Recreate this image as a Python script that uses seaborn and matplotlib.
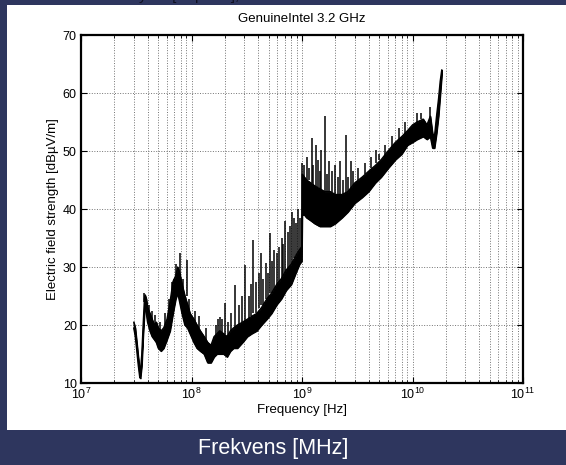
import numpy as np
import pandas as pd
import matplotlib
matplotlib.use("Agg")
import matplotlib.pyplot as plt
from matplotlib.patches import Rectangle
from matplotlib.ticker import LogLocator, NullFormatter
import seaborn as sns

freq_mhz = [30, 31, 32, 33, 34, 34.5, 35.5, 36.5, 37.5, 38, 39, 40, 42, 44, 46, 48,
            50, 53, 56, 60, 64, 68, 72, 75, 78, 82, 87, 92, 97, 105, 112, 120,
            130, 140, 150, 160, 170, 180, 195, 210, 225, 240, 260, 290, 320, 350,
            390, 430, 480, 530, 590, 650, 720, 800, 880, 950, 995, 1005, 1050, 1100,
            1200, 1300, 1450, 1600, 1800, 2000, 2300, 2600, 3000, 3500, 4000, 4600,
            5200, 6000, 7000, 8000, 9000, 10000, 11000, 12500, 13500, 14500, 15200,
            15800, 16500, 17200, 17800, 18400]
level_lo = [19.5, 18, 15.5, 13, 11, 10.8, 13, 18, 22, 23.5, 22, 20.5, 19, 18, 17.5, 17,
            16, 15.5, 16, 17.5, 19, 22, 24.5, 25.5, 24, 22, 20, 19.5, 18.5, 17, 16, 15.5,
            15, 13.5, 13.5, 14.5, 15, 15, 15, 14.5, 15.5, 16, 16, 17, 18, 18.5,
            19, 20, 21, 22, 23.5, 24.5, 26, 27, 29, 30.5, 31, 39, 39, 38.5,
            38, 37.5, 37, 37, 37, 37.5, 38.5, 39.5, 41, 42, 43, 44.5,
            45.5, 47, 48.5, 49.5, 51, 51.5, 52, 52.5, 52, 52.5, 50.5,
            50.5, 53, 56, 59.5, 63]
level_hi = [20.5, 19.5, 17, 14.5, 12.5, 12, 15, 20, 24.5, 25.2, 24.5, 23, 22, 21, 20, 20.5,
            19.5, 19, 19.5, 21, 24, 27.5, 28.5, 30, 29, 27, 25, 23.5, 22, 21, 20, 19,
            18, 17, 16.5, 18, 18.5, 19, 18.5, 18, 19, 19.5, 20, 20.5, 21, 21.5,
            22, 23, 24.5, 25.5, 27, 28, 29.5, 30.5, 32, 33, 33.5, 46, 45.5, 45,
            44.5, 44, 43.5, 43, 43, 42.5, 42.5, 43, 44.5, 45.5, 46.5, 47.5,
            48.5, 50, 51.5, 52.5, 53.5, 54.5, 55, 55.5, 54.5, 56, 53,
            52.5, 56, 59, 62, 64]

# Narrow spikes sticking out of the band (start and end level)
spike_mhz = [37.5, 41, 44, 47, 52, 58, 62, 66, 70, 73, 79, 84, 91, 95,
             108, 118, 135, 165, 172, 181, 190, 201, 215, 230, 248, 270, 285,
             305, 330, 345, 363, 380, 410, 423, 445, 470, 495, 513, 540, 560,
             589, 620, 654, 680, 702, 740, 780, 807, 850, 890, 923, 960, 1000,
             1050, 1100, 1150, 1220, 1270, 1330, 1400, 1450, 1500, 1600, 1700,
             1750, 1850, 2000, 2100, 2200, 2350, 2480, 2600, 2750, 2900, 3200,
             3700, 4200, 4700, 5000, 5600, 6500, 7500, 8500, 11000, 12000, 14400]
spike_base = [24, 22, 21, 20, 19, 20, 22.5, 26, 27, 28.5, 28, 26, 25, 22.5,
              20.5, 19.5, 17.5, 18, 18.5, 18.5, 18.8, 18.5, 18, 19, 19.5, 20, 20.5,
              20.5, 21, 21.5, 22, 22, 23, 23.5, 23.5, 24.5, 24.5, 25.5, 25.5, 26,
              27, 27.5, 28, 28.5, 29, 29.5, 30, 30.5, 31.5, 32, 32.5, 33, 33,
              45.5, 45, 45, 44.5, 44, 44, 43.8, 43.5, 43.5, 43, 43,
              43, 43, 42.5, 42.5, 42.5, 42.5, 42.5, 43, 43, 44.2, 45,
              46, 47, 48, 48.5, 49, 50.5, 52, 53, 55, 55.5, 55]
spike_top = [25.5, 23.5, 22.5, 21.8, 20.5, 22, 24.5, 27.5, 28, 30.5, 32.4, 28, 31.2, 24.5,
             22.5, 21.5, 19.5, 20, 21, 21.4, 21, 23.8, 20.5, 22, 26.9, 23.5, 25,
             30.3, 25, 27, 34.7, 27.5, 29, 32.4, 28, 30.7, 29, 35.8, 31, 33,
             32.4, 33.5, 35, 34, 38, 36, 37, 39.5, 38.5, 37.5, 40, 38.5, 48,
             47.5, 49, 47, 52.2, 47.5, 51, 48.5, 46.5, 50.2, 56, 46,
             48.2, 46.5, 47.6, 45.5, 48.2, 45, 52.8, 45.5, 48.2, 46.5, 47,
             48, 49, 50.2, 49.5, 51, 52.5, 54, 55, 56.5, 56.5, 57.5]

df = pd.DataFrame({"freq": np.array(freq_mhz) * 1e6, "lo": level_lo, "hi": level_hi})

sns.set_theme(style="ticks")
plt.rcParams["font.family"] = ["Liberation Sans", "DejaVu Sans"]
plt.rcParams["mathtext.default"] = "regular"

fig = plt.figure(figsize=(5.66, 4.65), dpi=100, facecolor="#2e365e")
fig.patches.append(Rectangle((7 / 566, 35 / 465), 1, 425 / 465, transform=fig.transFigure,
                             facecolor="white", edgecolor="none", zorder=-10))
ax = fig.add_axes([81 / 566, 82 / 465, 442 / 566, 348 / 465])
ax.set_facecolor("white")

# Band and its edges
ax.fill_between(df["freq"], df["lo"], df["hi"], color="black", lw=0.8)
sns.lineplot(data=df, x="freq", y="lo", color="black", lw=1.0, ax=ax)
sns.lineplot(data=df, x="freq", y="hi", color="black", lw=1.0, ax=ax)
ax.vlines(np.array(spike_mhz) * 1e6, spike_base, spike_top, color="black", lw=1.1)

ax.set_xscale("log")
ax.set_xlim(1e7, 1e11)
ax.set_ylim(10, 70)
ax.set_yticks(range(10, 71, 10))
ax.xaxis.set_major_locator(LogLocator(base=10, numticks=10))
ax.xaxis.set_minor_locator(LogLocator(base=10, subs=np.arange(2, 10), numticks=20))
ax.xaxis.set_minor_formatter(NullFormatter())

# MATLAB style dotted grid and inward ticks on every side
ax.grid(True, which="both", axis="x", ls=":", color="0.45", lw=0.7)
ax.grid(True, which="major", axis="y", ls=":", color="0.45", lw=0.7)
ax.tick_params(which="both", direction="in", top=True, right=True, colors="black",
               labelsize=9, pad=3)
ax.tick_params(which="major", length=4, width=0.8)
ax.tick_params(which="minor", length=2.5, width=0.6)
for s in ax.spines.values():
    s.set_linewidth(1.6)
    s.set_color("black")

ax.set_title("GenuineIntel 3.2 GHz", fontsize=9.5, color="black", pad=9)
ax.set_xlabel("Frequency [Hz]", fontsize=9.5, color="black", labelpad=1)
ax.set_ylabel("Electric field strength [dBµV/m]", fontsize=9.5, color="black", labelpad=3)

# Slide captions around the plot
fig.text(0.251, 1.0, "Elektrisk fältstyrka [dBµV/m],", ha="center", va="baseline",
         fontsize=11, color="#101020")
fig.text(0.483, 17 / 465, "Frekvens [MHz]", ha="center", va="center",
         fontsize=15.5, color="white")

plt.savefig("out.png", dpi=100, facecolor=fig.get_facecolor())
